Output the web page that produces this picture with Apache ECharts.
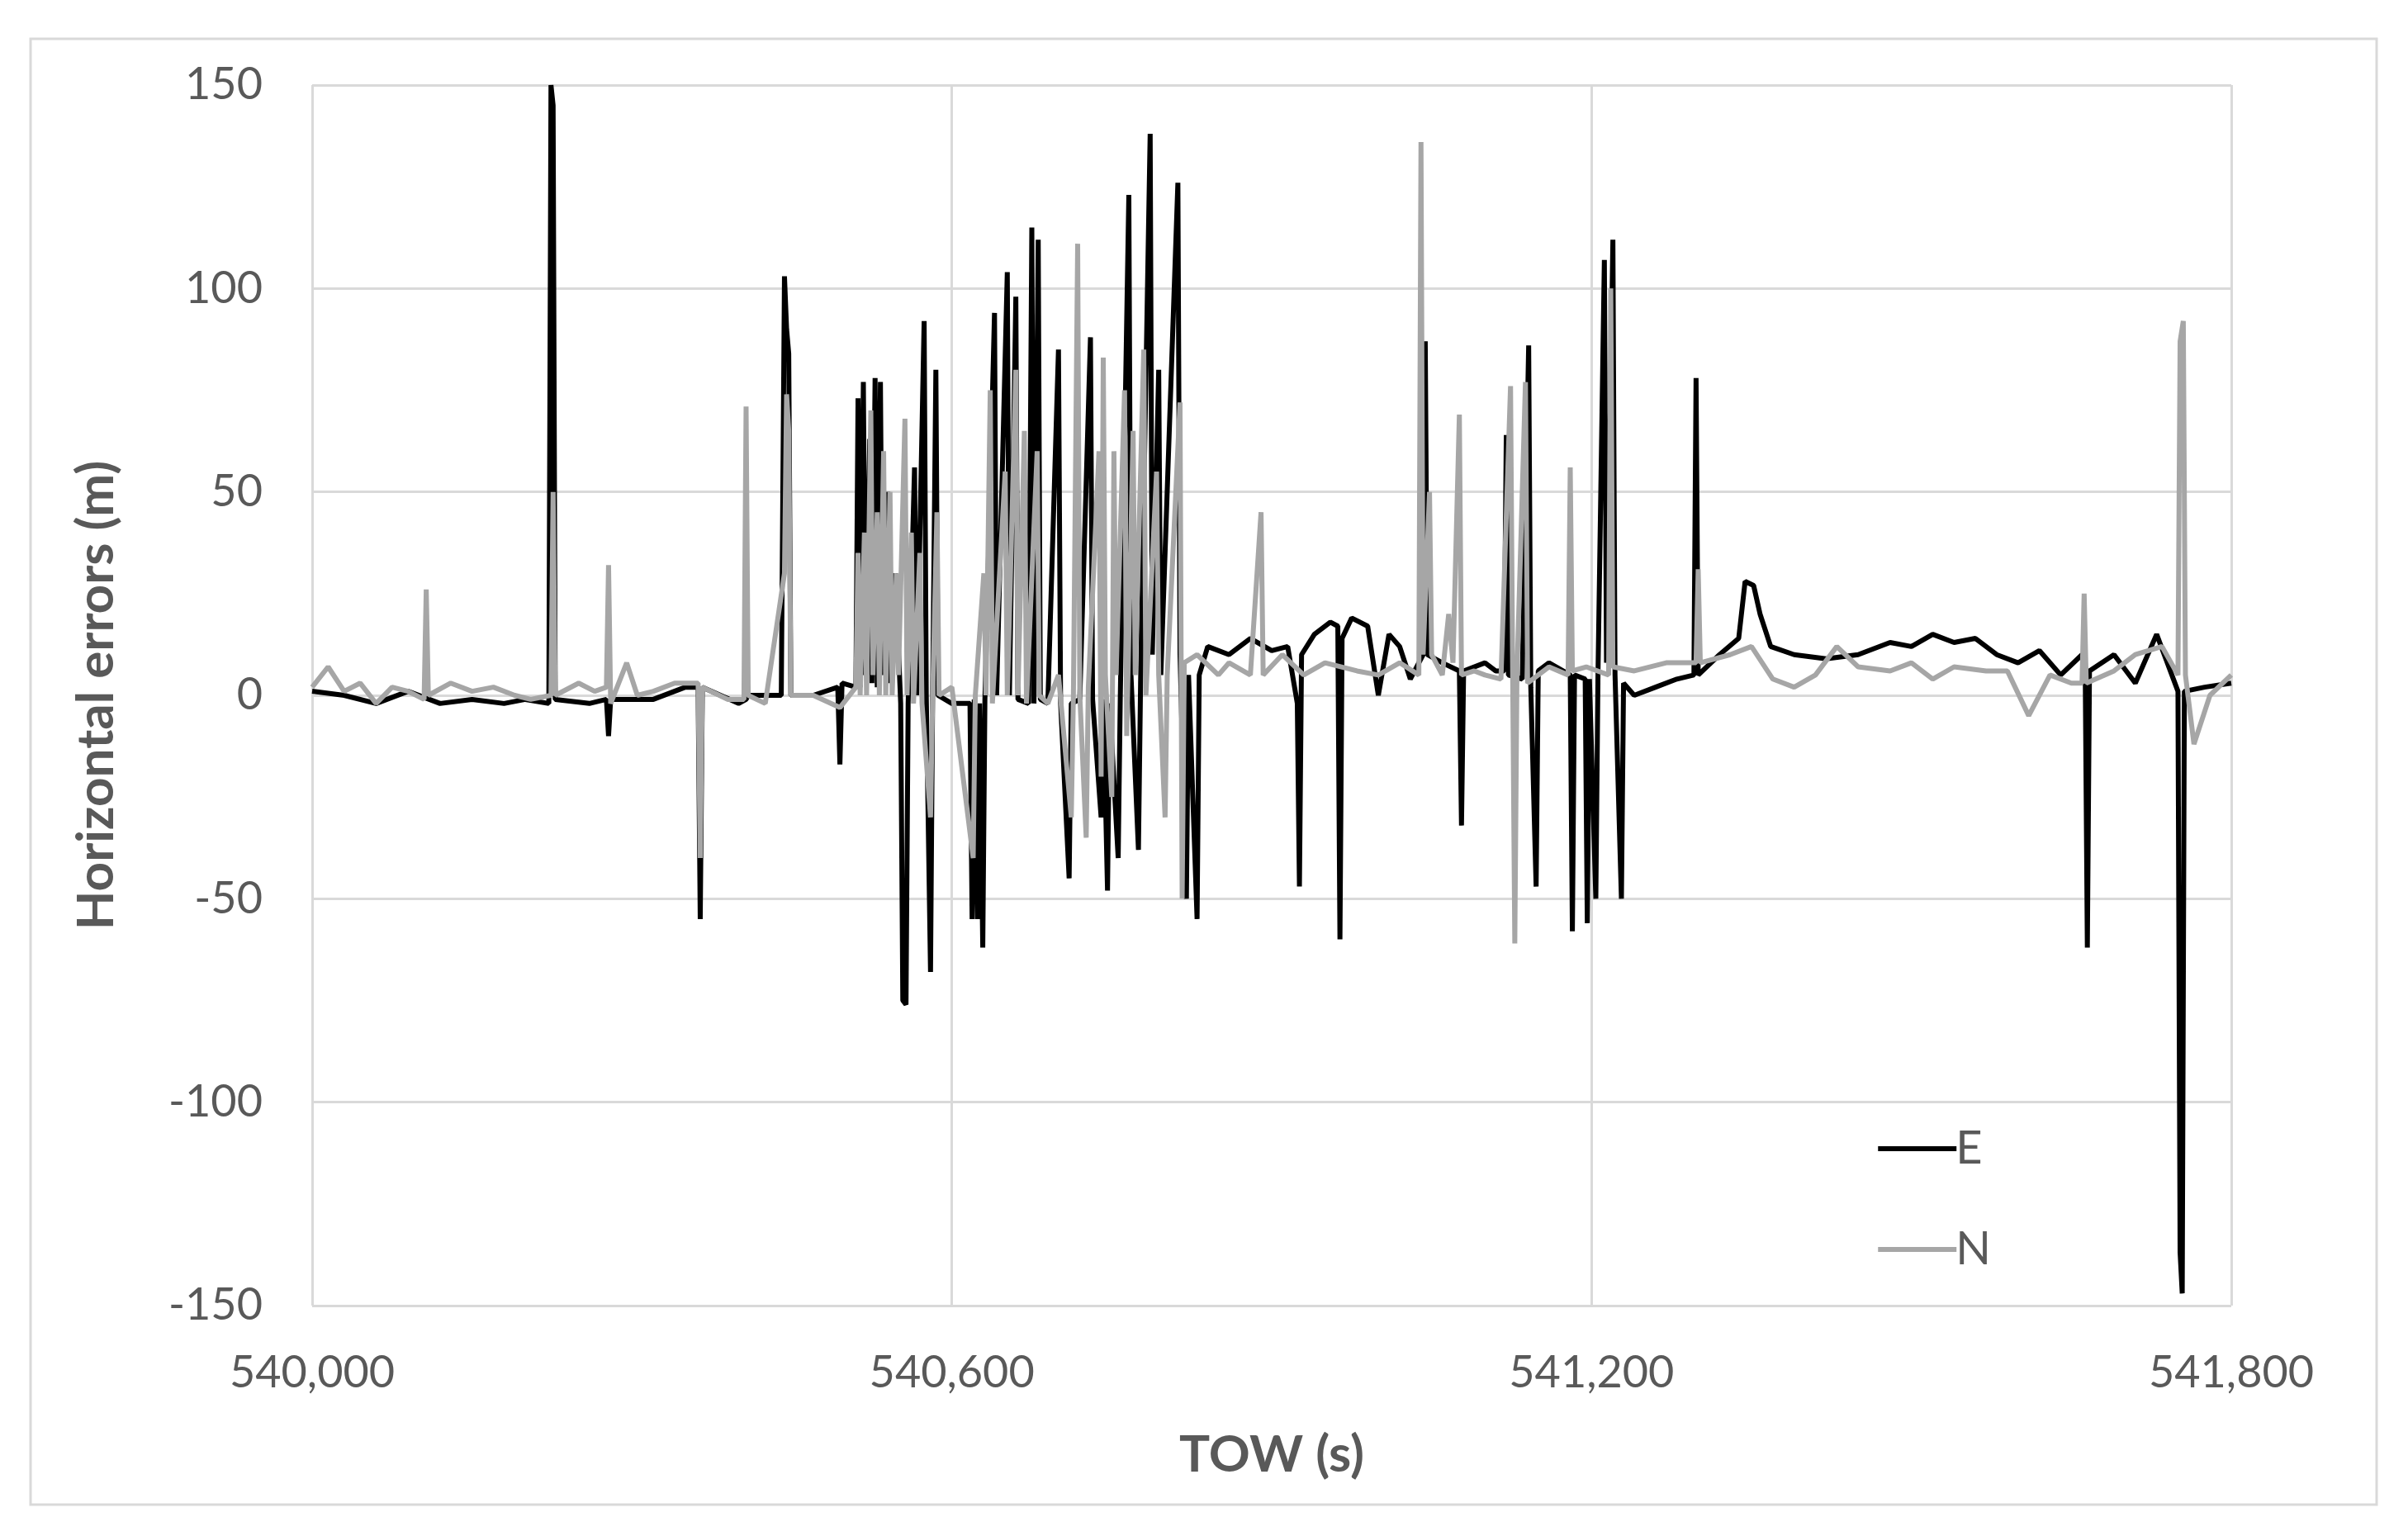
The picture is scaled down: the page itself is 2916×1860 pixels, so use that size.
<!DOCTYPE html>
<html><head><meta charset="utf-8">
<script src="https://cdn.jsdelivr.net/npm/echarts@6/dist/echarts.min.js"></script>
<style>html,body{margin:0;background:#fff}#c{width:2916px;height:1860px}</style>
</head><body><div id="c"></div>
<script>
// TOW (s), error (m)
const eastData = [
 [540000,1],[540030,0],[540060,-2],[540090,1],[540120,-2],[540150,-1],[540180,-2],[540200,-1],[540222,-2],[540224,150],[540226,145],[540228,-1],
 [540260,-2],[540276,-1],[540278,-10],[540280,-1],[540320,-1],[540350,2],[540362,2],[540364,-55],[540366,2],[540400,-2],[540407,-1],[540409,0],
 [540440,0],[540443,103],[540445,90],[540447,84],[540449,0],[540470,0],[540493,2],[540495,-17],[540497,3],
 [540510,2],[540512,73],[540514,2],[540517,77],[540519,5],[540523,63],[540525,3],[540528,78],[540530,2],[540533,77],[540535,5],
 [540540,50],[540542,3],[540547,30],[540552,-2],[540554,-75],[540557,-76],[540559,-2],[540565,56],[540567,0],
 [540574,92],[540576,0],[540580,-68],[540582,2],[540585,80],[540587,0],[540600,-2],
 [540617,-2],[540619,-55],[540621,-1],[540624,-55],[540626,-2],[540629,-62],[540631,-1],[540640,94],[540642,0],
 [540652,104],[540654,0],[540660,98],[540662,-1],[540672,-2],[540675,115],[540677,-2],[540681,112],[540683,-1],
 [540690,-2],[540700,85],[540702,-2],[540710,-45],[540712,-2],[540720,-1],[540730,88],[540732,-1],
 [540740,-30],[540742,-1],[540746,-48],[540748,-2],[540756,-40],[540758,0],[540766,123],[540768,5],[540775,-38],[540777,3],
 [540786,138],[540788,10],[540794,80],[540796,5],[540812,126],[540814,10],[540820,-50],[540822,5],[540830,-55],[540832,5],
 [540840,12],[540860,10],[540880,14],[540900,11],[540915,12],[540924,-2],[540926,-47],[540928,10],[540940,15],[540955,18],
 [540962,17],[540964,-60],[540966,14],[540975,19],[540990,17],[541000,0],[541010,15],[541020,12],[541030,4],
 [541042,10],[541044,87],[541046,10],[541060,8],[541076,6],[541078,-32],[541080,6],[541100,8],[541110,6],
 [541118,6],[541120,64],[541122,5],[541135,4],[541141,86],[541143,2],[541148,-47],[541150,6],[541160,8],
 [541180,5],[541182,-58],[541184,5],[541194,4],[541196,-56],[541198,4],[541204,-50],[541206,5],[541212,107],[541214,8],
 [541220,112],[541222,5],[541228,-50],[541230,3],[541240,0],[541260,2],[541280,4],[541296,5],[541298,78],[541300,5],
 [541320,10],[541338,14],[541344,28],[541352,27],[541358,20],[541368,12],[541390,10],[541420,9],[541450,10],[541480,13],
 [541500,12],[541520,15],[541540,13],[541560,14],[541580,10],[541600,8],[541620,11],[541640,5],[541660,10],[541663,6],
 [541665,-62],[541667,6],[541690,10],[541710,3],[541730,15],[541750,1],[541752,-137],[541754,-147],[541756,1],[541775,2],[541800,3]
];
const northData = [
 [540000,2],[540015,7],[540030,1],[540045,3],[540060,-2],[540075,2],[540090,1],[540105,-1],[540107,26],[540109,0],
 [540130,3],[540150,1],[540170,2],[540190,0],[540205,-1],[540224,0],[540226,50],[540228,0],[540250,3],[540265,1],
 [540276,2],[540278,32],[540280,-2],[540295,8],[540305,0],[540320,1],[540340,3],[540362,3],[540364,-40],[540366,2],
 [540390,-1],[540405,-1],[540407,71],[540409,0],[540425,-2],[540443,30],[540445,74],[540447,65],[540449,0],
 [540470,0],[540495,-3],[540510,2],[540512,35],[540514,0],[540518,40],[540520,0],[540524,70],[540526,5],
 [540530,45],[540532,0],[540536,60],[540538,0],[540542,50],[540544,0],[540548,30],[540550,5],[540556,68],[540558,0],
 [540562,40],[540564,-2],[540570,35],[540572,-2],[540580,-30],[540582,0],[540586,45],[540588,0],[540600,2],
 [540620,-40],[540622,0],[540630,30],[540632,0],[540636,75],[540638,-2],[540650,55],[540652,0],[540660,80],[540662,0],
 [540668,65],[540670,-2],[540680,60],[540682,0],[540690,-2],[540700,5],[540712,-30],[540714,0],[540718,111],[540720,0],
 [540726,-35],[540728,2],[540738,60],[540740,-20],[540742,83],[540744,5],[540750,-25],[540752,60],[540754,5],
 [540762,75],[540764,-10],[540770,65],[540772,5],[540780,85],[540782,0],[540792,55],[540794,5],[540800,-30],[540802,5],
 [540814,72],[540816,-50],[540818,8],[540830,10],[540850,5],[540860,8],[540880,5],[540890,45],[540892,5],[540910,10],
 [540930,5],[540950,8],[540980,6],[541000,5],[541020,8],[541038,5],[541040,136],[541042,10],[541048,50],[541050,10],
 [541060,5],[541066,20],[541070,8],[541076,69],[541078,5],[541090,6],[541100,5],[541115,4],[541124,76],[541126,5],
 [541128,-61],[541130,5],[541138,77],[541140,3],[541160,7],[541178,5],[541180,56],[541182,6],[541195,7],
 [541216,5],[541218,100],[541220,7],[541240,6],[541270,8],[541298,8],[541300,31],[541302,8],[541330,10],[541350,12],
 [541370,4],[541390,2],[541410,5],[541430,12],[541450,7],[541480,6],[541500,8],[541520,4],[541540,7],[541570,6],
 [541590,6],[541610,-5],[541630,5],[541650,3],[541660,3],[541662,25],[541664,3],[541690,6],[541710,10],[541735,12],
 [541750,5],[541752,87],[541755,92],[541757,5],[541765,-12],[541780,0],[541800,5]
];
const xTicks = [540000, 540600, 541200, 541800];

const font = 'Lato';
const txt = '#595959';
const chart = echarts.init(document.getElementById('c'));
chart.setOption({
  animation: false,
  graphic: [{type:'rect', shape:{x:37,y:47,width:2841,height:1775}, style:{fill:'none',stroke:'#d9d9d9',lineWidth:3}}],
  grid: {left: 378, right: 214, top: 103, bottom: 279},
  legend: {
    orient: 'vertical', right: 500, top: 1358, itemGap: 66, itemWidth: 95, itemHeight: 6,
    icon: 'rect', textStyle: {fontFamily: font, fontSize: 56, color: txt, padding: [0,0,0,-6]},
    data: ['E', 'N']
  },
  xAxis: {
    type: 'value', min: 540000, max: 541800, interval: 600,
    name: 'TOW (s)', nameLocation: 'middle', nameGap: 150,
    nameTextStyle: {fontFamily: font, fontSize: 62, fontWeight: 'bold', color: txt},
    axisLine: {show: false}, axisTick: {show: false},
    axisLabel: {fontFamily: font, fontSize: 54, color: txt, margin: 55,
      formatter: v => xTicks.includes(v) ? v.toLocaleString('en-US') : ''},
    splitLine: {lineStyle: {color: '#d9d9d9', width: 3}}
  },
  yAxis: {
    type: 'value', min: -150, max: 150, interval: 50,
    name: 'Horizontal errors (m)', nameLocation: 'middle', nameGap: 230, nameRotate: 90,
    nameTextStyle: {fontFamily: font, fontSize: 62, fontWeight: 'bold', color: txt},
    axisLine: {show: false}, axisTick: {show: false},
    axisLabel: {fontFamily: font, fontSize: 54, color: txt, margin: 60},
    splitLine: {lineStyle: {color: '#d9d9d9', width: 3}}
  },
  series: [
    {name: 'E', type: 'line', data: eastData, showSymbol: false, lineStyle: {color: '#000', width: 6}, itemStyle: {color: '#000'}},
    {name: 'N', type: 'line', data: northData, showSymbol: false, lineStyle: {color: '#a6a6a6', width: 6}, itemStyle: {color: '#a6a6a6'}}
  ]
});
</script></body></html>
